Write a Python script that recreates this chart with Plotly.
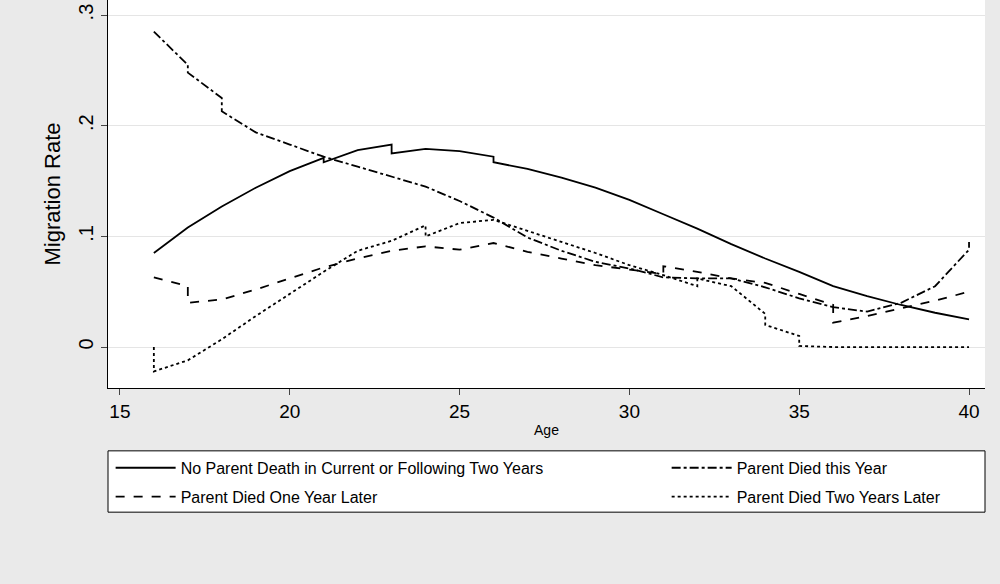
import plotly.graph_objects as go

x_none = [16,17,18,19,20,21,21,22,23,23,24,25,26,26,27,28,29,30,31,32,33,34,35,36,37,38,39,40]
y_none = [.085,.108,.127,.144,.159,.171,.167,.178,.183,.175,.179,.177,.172,.167,.161,.153,.144,.133,.120,.107,.093,.080,.068,.055,.046,.038,.031,.025]

x_this = [16,17,17,18,18,19,20,21,22,23,24,25,26,27,28,29,30,31,32,33,34,35,36,37,38,39,40,40]
y_this = [.285,.255,.248,.225,.213,.194,.183,.172,.163,.154,.145,.132,.117,.099,.087,.077,.071,.063,.062,.062,.054,.044,.036,.032,.040,.055,.088,.095]

x_one = [16,17,17,18,19,20,21,22,23,24,25,26,27,28,29,30,31,31,32,33,34,35,36,36,37,38,39,40]
y_one = [.063,.055,.040,.043,.052,.062,.072,.080,.087,.091,.088,.094,.086,.080,.074,.070,.066,.073,.068,.062,.058,.048,.038,.022,.028,.035,.042,.050]

x_two = [16,16,17,18,19,20,21,22,23,24,24,25,26,27,28,29,30,31,32,32,33,34,34,35,35,36,37,38,39,40]
y_two = [0,-.022,-.012,.007,.028,.048,.068,.087,.096,.110,.100,.112,.115,.105,.095,.085,.074,.065,.055,.062,.055,.030,.020,.010,.001,0,0,0,0,0]

series = [
    ("No Parent Death in Current or Following Two Years", x_none, y_none, "solid", "legend"),
    ("Parent Died this Year", x_this, y_this, "dashdot", "legend2"),
    ("Parent Died One Year Later", x_one, y_one, "dash", "legend"),
    ("Parent Died Two Years Later", x_two, y_two, "dot", "legend2"),
]

fig = go.Figure()
for i, (name, xs, ys, d, lg) in enumerate(series):
    fig.add_trace(go.Scatter(x=xs, y=ys, mode="lines", name=name, legend=lg,
                             legendgroup=f"g{i}",
                             line=dict(color="black", width=1.8, dash=d)))

leg_common = dict(orientation="v", y=-0.162, yanchor="top", bgcolor="rgba(0,0,0,0)",
                  borderwidth=0, font=dict(size=16), tracegroupgap=5, traceorder="grouped",
                  itemwidth=60)

fig.add_shape(type="rect", xref="paper", yref="paper", x0=0, x1=1, y0=-0.162, y1=-0.32,
              fillcolor="white", line=dict(color="black", width=1), layer="below")

fig.update_layout(
    width=1000, height=584,
    paper_bgcolor="#EAEAEA", plot_bgcolor="white",
    font=dict(family="Liberation Sans, Arial", color="black"),
    margin=dict(l=108, r=15, t=0, b=196, autoexpand=False),
    xaxis=dict(range=[14.65, 40.47], tickvals=[15,20,25,30,35,40], ticks="outside",
               ticklen=6, showgrid=False, zeroline=False, showline=True, linecolor="black",
               automargin=False,
               tickfont=dict(size=19), title=dict(text="Age", font=dict(size=14), standoff=4)),
    yaxis=dict(range=[-0.037, 0.3136], tickvals=[0,.1,.2,.3], ticktext=["0",".1",".2",".3"],
               tickangle=-90, ticks="outside", ticklen=6, showgrid=True, gridcolor="#E5E5E5",
               zeroline=False, showline=True, linecolor="black", tickfont=dict(size=20),
               automargin=False,
               title=dict(text="Migration Rate", font=dict(size=22), standoff=8)),
    legend=dict(x=0.003, xanchor="left", **leg_common),
    legend2=dict(x=0.637, xanchor="left", **leg_common),
)
fig.write_html("out.html", post_script="document.body.style.margin='0';",
               config={"displayModeBar": False})
